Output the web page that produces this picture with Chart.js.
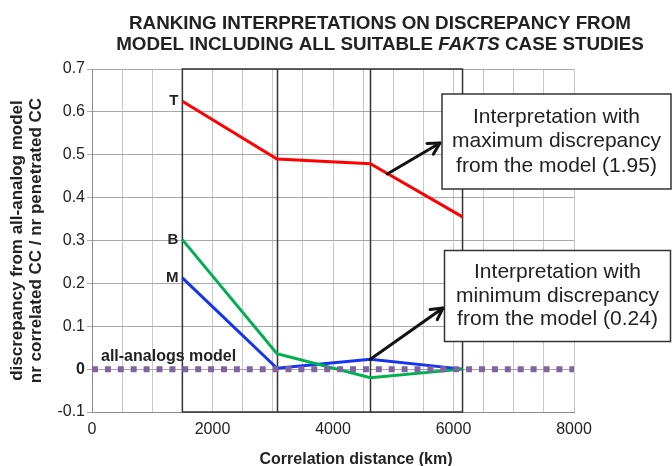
<!DOCTYPE html>
<html><head><meta charset="utf-8">
<script src="https://cdn.jsdelivr.net/npm/chart.js@4/dist/chart.umd.min.js"></script>
<style>html,body{margin:0;padding:0;background:#fff;}#wrap{width:672px;height:466px;}</style>
</head><body><div id="wrap"><canvas id="c" width="672" height="466"></canvas></div>
<script>
// ---- data ----
const distances = [1500, 3070, 4620, 6150];          // correlation distance (km)
const seriesT = [0.625, 0.490, 0.479, 0.355];
const seriesB = [0.302, 0.036, -0.020, 0.000];
const seriesM = [0.213, 0.002, 0.023, 0.000];
const seriesNames = ['T', 'B', 'M'];
const modelX = [0, 8000];
const modelY = [0, 0];
const modelName = 'all-analogs model';
const xTickLabels = [0, 2000, 4000, 6000, 8000];
const yTickValues = [-0.1, 0, 0.1, 0.2, 0.3, 0.4, 0.5, 0.6, 0.7];
const titleLine1 = 'RANKING INTERPRETATIONS ON DISCREPANCY FROM';
const titleLine2 = ['MODEL INCLUDING ALL SUITABLE ', 'FAKTS', ' CASE STUDIES'];
const xTitle = 'Correlation distance (km)';
const yTitle = ['discrepancy from all-analog model', 'nr correlated CC / nr penetrated CC'];
const noteMax = ['Interpretation with', 'maximum discrepancy', 'from the model (1.95)'];
const noteMin = ['Interpretation with', 'minimum discrepancy', 'from the model (0.24)'];
const noteMaxAnchor = [4900, 0.455];   // point on T line where arrow starts
const noteMinAnchorIndex = 2;          // arrow starts at M point

const FONT = 'Arial, "Liberation Sans", sans-serif';
const pts = (xs, ys) => xs.map((x, i) => ({x, y: ys[i]}));

function drawArrow(ctx, x1, y1, x2, y2) {
  ctx.save();
  ctx.strokeStyle = '#111'; ctx.lineWidth = 3; ctx.lineCap = 'round'; ctx.lineJoin = 'round';
  ctx.beginPath(); ctx.moveTo(x1, y1); ctx.lineTo(x2, y2); ctx.stroke();
  const a = Math.atan2(y2 - y1, x2 - x1), L = 13, s = 0.5;
  ctx.beginPath();
  ctx.moveTo(x2 - L * Math.cos(a - s), y2 - L * Math.sin(a - s));
  ctx.lineTo(x2, y2);
  ctx.lineTo(x2 - L * Math.cos(a + s), y2 - L * Math.sin(a + s));
  ctx.stroke();
  ctx.restore();
}
function drawNote(ctx, lines, left, top, right, bottom, lh) {
  ctx.save();
  ctx.fillStyle = '#fff'; ctx.fillRect(left, top, right - left, bottom - top);
  ctx.strokeStyle = '#333'; ctx.lineWidth = 1.5; ctx.strokeRect(left, top, right - left, bottom - top);
  ctx.fillStyle = '#222'; ctx.font = '21px ' + FONT; ctx.textAlign = 'center'; ctx.textBaseline = 'middle';
  const cx = (left + right) / 2, cy = (top + bottom) / 2;
  lines.forEach((t, i) => ctx.fillText(t, cx, cy + (i - (lines.length - 1) / 2) * lh));
  ctx.restore();
}

const overlay = {
  id: 'overlay',
  beforeDatasetsDraw(chart) {
    const {ctx, chartArea: ca, scales: {x}} = chart;
    ctx.save();
    ctx.strokeStyle = '#333'; ctx.lineWidth = 1.5;
    const x0 = x.getPixelForValue(distances[0]);
    const x1 = x.getPixelForValue(distances[distances.length - 1]);
    ctx.strokeRect(x0, ca.top, x1 - x0, ca.bottom - ca.top);
    for (let i = 1; i < distances.length - 1; i++) {
      const px = Math.round(x.getPixelForValue(distances[i])) + 0.5;
      ctx.beginPath(); ctx.moveTo(px, ca.top); ctx.lineTo(px, ca.bottom); ctx.stroke();
    }
    ctx.restore();
  },
  afterDatasetsDraw(chart) {
    const {ctx, chartArea: ca, scales: {x, y}} = chart;
    ctx.save();
    // series labels
    ctx.fillStyle = '#222'; ctx.font = 'bold 15px ' + FONT; ctx.textAlign = 'right'; ctx.textBaseline = 'middle';
    [seriesT, seriesB, seriesM].forEach((s, i) => {
      ctx.fillText(seriesNames[i], x.getPixelForValue(distances[0]) - 4, y.getPixelForValue(s[0]));
    });
    ctx.font = 'bold 16px ' + FONT; ctx.textAlign = 'left'; ctx.textBaseline = 'alphabetic';
    ctx.fillText(modelName, x.getPixelForValue(modelX[0]) + 9, y.getPixelForValue(modelY[0]) - 8);
    // arrows + notes
    drawArrow(ctx, x.getPixelForValue(noteMaxAnchor[0]), y.getPixelForValue(noteMaxAnchor[1]), 440, 143);
    drawArrow(ctx, x.getPixelForValue(distances[noteMinAnchorIndex]), y.getPixelForValue(seriesM[noteMinAnchorIndex]), 443, 308);
    drawNote(ctx, noteMax, 442, 94, 671, 189, 24.5);
    drawNote(ctx, noteMin, 444.5, 250.5, 670.5, 341.5, 23.5);
    // main title
    ctx.fillStyle = '#222'; ctx.textBaseline = 'alphabetic'; ctx.textAlign = 'left';
    const cx = 380, tf = '18.8px ' + FONT;
    ctx.font = 'bold ' + tf;
    let w = ctx.measureText(titleLine1).width;
    ctx.fillText(titleLine1, cx - w / 2, 28.5);
    const fonts = ['bold ' + tf, 'italic bold ' + tf, 'bold ' + tf];
    let widths = titleLine2.map((t, i) => { ctx.font = fonts[i]; return ctx.measureText(t).width; });
    let px = cx - widths.reduce((a, b) => a + b, 0) / 2;
    titleLine2.forEach((t, i) => { ctx.font = fonts[i]; ctx.fillText(t, px, 50); px += widths[i]; });
    // x axis title
    ctx.font = 'bold 16px ' + FONT; ctx.textAlign = 'center';
    ctx.fillText(xTitle, 356, 464);
    ctx.restore();
  }
};

new Chart(document.getElementById('c'), {
  type: 'line',
  data: {
    datasets: [
      {label: modelName, data: pts(modelX, modelY), borderColor: '#8064A2', borderWidth: 6,
       borderDash: [6, 6.9], borderCapStyle: 'butt', pointRadius: 0, order: 0},
      {label: seriesNames[0], data: pts(distances, seriesT), borderColor: '#FF0000', borderWidth: 3, pointRadius: 0, order: 1},
      {label: seriesNames[1], data: pts(distances, seriesB), borderColor: '#00B050', borderWidth: 3, pointRadius: 0, order: 1},
      {label: seriesNames[2], data: pts(distances, seriesM), borderColor: '#1434F0', borderWidth: 3, pointRadius: 0, order: 1}
    ]
  },
  options: {
    responsive: false, animation: false, devicePixelRatio: 1,
    layout: {padding: {top: 69, right: 98, bottom: 0, left: 0}},
    plugins: {legend: {display: false}, tooltip: {enabled: false}, title: {display: false}},
    elements: {line: {tension: 0}},
    scales: {
      x: {
        type: 'linear', min: 0, max: 8000,
        afterBuildTicks: s => { const t = []; for (let v = 0; v <= 8000; v += 500) t.push({value: v}); s.ticks = t; },
        ticks: {autoSkip: false, maxRotation: 0, color: '#222', font: {family: FONT, size: 16}, padding: 8,
                callback: v => xTickLabels.includes(v) ? String(v) : ''},
        grid: {color: '#c8c8c8', drawTicks: false},
        border: {color: '#8c8c8c'},
        afterFit: s => { s.height = 54; }
      },
      y: {
        min: -0.1, max: 0.7,
        afterBuildTicks: s => { s.ticks = yTickValues.map(v => ({value: v})); },
        ticks: {color: '#222', padding: 2,
                font: c => ({family: FONT, size: 16, weight: (c.tick && Math.abs(c.tick.value) < 1e-9) ? 'bold' : 'normal'}),
                callback: v => String(Math.round(v * 10) / 10)},
        grid: {color: '#a8a8a8', tickLength: 5},
        border: {color: '#8c8c8c'},
        title: {display: true, text: yTitle, color: '#222', font: {family: FONT, size: 17, weight: 'bold', lineHeight: 1.12}, padding: {top: 8, bottom: 0}},
        afterFit: s => { s.width = 92; }
      }
    }
  },
  plugins: [overlay]
});
</script></body></html>
